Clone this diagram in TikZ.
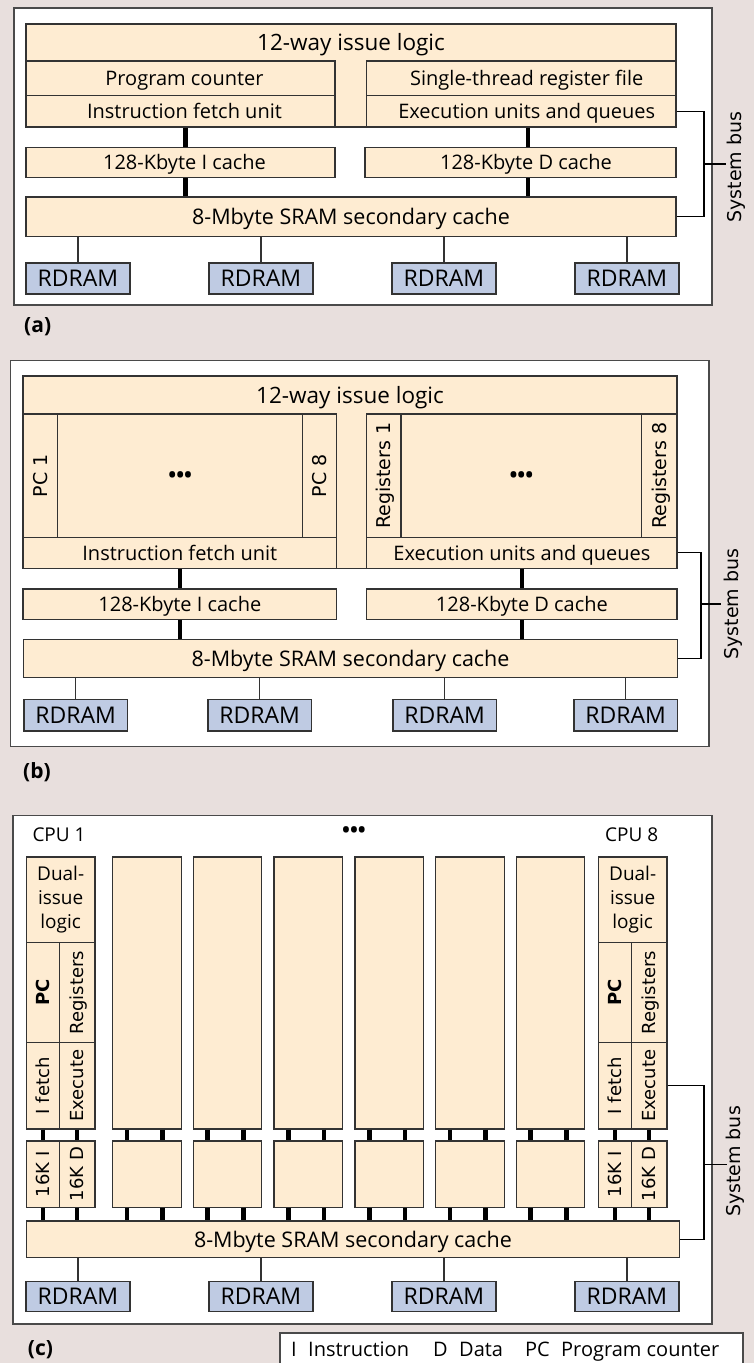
\documentclass[tikz,border=0pt]{standalone}
\usepackage{fontspec}
\setmainfont{Open Sans}
\newfontfamily\rotf{DejaVu Sans}
\usepackage{graphicx}
\definecolor{tanfill}{HTML}{FEECD2}
\definecolor{ramfill}{HTML}{BFCBE3}
\definecolor{edgec}{HTML}{333333}
\definecolor{bgc}{HTML}{E8DFDD}
\definecolor{framec}{HTML}{4A4A4A}
\newcommand\fs[1]{\fontsize{#1}{#1}\selectfont}
\tikzset{
  boxbase/.style={draw=edgec,fill=tanfill,line width=1.2pt,inner sep=0pt},
  ubox/.style={boxbase,font=\fs{20},text height=14.3pt,text depth=0pt},
  ttlbox/.style={font=\fs{22.5},text height=16pt,text depth=0pt,inner sep=0pt},
  l2box/.style={boxbase,font=\fs{21.5},text height=15.3pt,text depth=0pt},
  rbox/.style={boxbase,fill=ramfill,font=\fs{23},text height=16.4pt,text depth=0pt},
  dualbox/.style={boxbase,font=\fontsize{19}{24}\selectfont,align=center},
  vbx/.style={boxbase,rotate=90,font=\rotf\fs{19},text height=13.9pt,text depth=0pt},
  vbxs/.style={boxbase,rotate=90,font=\rotf\fs{18},text height=13.1pt,text depth=0pt},
  tshape/.style={draw=edgec,fill=tanfill,line width=1.2pt},
  panel/.style={draw=framec,fill=white,line width=1.3pt},
  wide/.style={line width=4.6pt,black},
  thinc/.style={line width=1.1pt,edgec},
  bus/.style={line width=1.1pt,black},
  sbus/.style={rotate=90,font=\rotf\fs{19},inner sep=0pt,anchor=north},
  plabel/.style={font=\bfseries\fs{21},inner sep=0pt,anchor=west},
  cpu/.style={font=\fs{19},inner sep=0pt,anchor=base west},
  dots/.style={font=\bfseries\fs{21},inner sep=0pt},
  legt/.style={font=\fs{20},inner sep=0pt,anchor=base west},
}
% horizontal box: [style]{name}{x1}{y1}{x2}{y2}{text}
\newcommand\hb[7][ubox]{\node[#1,minimum width={((#5)-(#3))*1pt},minimum height={((#6)-(#4))*1pt}] (#2) at ({((#3)+(#5))/2},{((#4)+(#6))/2}) {#7};}
% rotated box
\newcommand\vb[7][vbx]{\node[#1,minimum width={((#6)-(#4))*1pt},minimum height={((#5)-(#3))*1pt}] (#2) at ({((#3)+(#5))/2},{((#4)+(#6))/2}) {#7};}
\begin{document}
\begin{tikzpicture}[x=1pt,y=-1pt]
\useasboundingbox (0,0) rectangle (754,1363);
\fill[bgc] (0,0) rectangle (754,1363);

%================ (a) ================
\draw[panel] (14,8) rectangle (712,305);
\draw[tshape] (26,24) -- (676,24) -- (676,61) -- (366.5,61) -- (366.5,127) -- (335,127) -- (335,61) -- (26,61) -- cycle;
\node[ttlbox] (issA) at (351,42.5) {12-way issue logic};
\hb{pcA}{26}{61}{335}{95.7}{\hspace*{8pt}Program counter}
\hb{ifA}{26}{95.7}{335}{127}{\hspace*{8pt}Instruction fetch unit}
\hb{rfA}{366.5}{61}{676}{95.7}{\hspace*{11pt}Single-thread register file}
\hb{exA}{366.5}{95.7}{676}{127}{\hspace*{11pt}Execution units and queues}
\hb{icA}{26}{147.7}{335}{177.7}{\hspace*{8pt}128-Kbyte I cache}
\hb{dcA}{365}{147.7}{676}{177.7}{\hspace*{11pt}128-Kbyte D cache}
\hb[l2box]{l2A}{26}{197}{676}{236.7}{8-Mbyte SRAM secondary cache}
\hb[rbox]{r1A}{26}{263}{130}{294}{RDRAM}
\hb[rbox]{r2A}{209}{263}{313}{294}{RDRAM}
\hb[rbox]{r3A}{392}{263}{496}{294}{RDRAM}
\hb[rbox]{r4A}{575}{263}{679}{294}{RDRAM}
\coordinate (xa1) at (185.7,0);
\coordinate (xa2) at (528,0);
\draw[wide] (ifA.south -| xa1) -- (icA.north -| xa1);
\draw[wide] (icA.south -| xa1) -- (l2A.north -| xa1);
\draw[wide] (exA.south -| xa2) -- (dcA.north -| xa2);
\draw[wide] (dcA.south -| xa2) -- (l2A.north -| xa2);
\foreach \r in {r1A,r2A,r3A,r4A} \draw[thinc] (\r.north |- l2A.south) -- (\r.north);
\coordinate (busA) at (704,164);
\coordinate (tickA) at (725.7,164);
\draw[bus] (exA.east) -| (busA) |- (l2A.east);
\draw[bus] (busA) -- (tickA);
\node[sbus] (sbA) at (727.3,167) {System bus};
\node[plabel] (labA) at (24,327) {(a)};

%================ (b) ================
\draw[panel] (10.6,360.7) rectangle (709,746.7);
\draw[tshape] (23,376) -- (677,376) -- (677,414) -- (366.8,414) -- (366.8,568.3) -- (336.6,568.3) -- (336.6,414) -- (23,414) -- cycle;
\node[ttlbox] (issB) at (350,395) {12-way issue logic};
\vb{pc1B}{23}{414}{57.7}{537.5}{PC 1}
\hb[ubox,font=\bfseries\fs{21}]{pcmB}{57.7}{414}{302.7}{537.5}{•••}
\vb{pc8B}{302.7}{414}{336.6}{537.5}{PC 8}
\vb{rg1B}{366.8}{414}{401}{537.5}{Registers 1}
\hb[ubox,font=\bfseries\fs{21}]{rgmB}{401}{414}{641.8}{537.5}{•••}
\vb{rg8B}{641.8}{414}{677}{537.5}{Registers 8}
\hb{ifB}{23}{537.5}{336.6}{568.3}{Instruction fetch unit}
\hb{exB}{366.8}{537.5}{677}{568.3}{Execution units and queues}
\hb{icB}{23}{589}{336.6}{619.3}{128-Kbyte I cache}
\hb{dcB}{366.8}{589}{677}{619.3}{128-Kbyte D cache}
\hb[l2box]{l2B}{23.5}{639.3}{677.5}{677.7}{8-Mbyte SRAM secondary cache}
\hb[rbox]{r1B}{24}{699.3}{127.5}{731}{RDRAM}
\hb[rbox]{r2B}{208}{699.3}{311.5}{731}{RDRAM}
\hb[rbox]{r3B}{393}{699.3}{496.5}{731}{RDRAM}
\hb[rbox]{r4B}{574}{699.3}{677.5}{731}{RDRAM}
\draw[wide] (ifB.south) -- (icB.north);
\draw[wide] (icB.south) -- (l2B.north -| icB.south);
\draw[wide] (exB.south) -- (dcB.north);
\draw[wide] (dcB.south) -- (l2B.north -| dcB.south);
\foreach \r in {r1B,r2B,r3B,r4B} \draw[thinc] (\r.north |- l2B.south) -- (\r.north);
\coordinate (busB) at (701,604);
\coordinate (tickB) at (721,604);
\draw[bus] (exB.east) -| (busB) |- (l2B.east);
\draw[bus] (busB) -- (tickB);
\node[sbus] (sbB) at (723.6,604) {System bus};
\node[plabel] (labB) at (23,771.7) {(b)};

%================ (c) ================
\draw[panel] (13,815.7) rectangle (712,1324);
\node[cpu] (cpu1) at (32.3,841) {CPU 1};
\node[cpu] (cpu8) at (605,841) {CPU 8};
\node[dots] (dotsC) at (354,832) {•••};
\hb[l2box]{l2C}{26.4}{1221}{679.5}{1257.7}{8-Mbyte SRAM secondary cache}
\foreach \L/\n in {26.4/1,598.4/8} {
  \hb[dualbox]{du\n C}{\L}{857}{\L+68.5}{942.7}{Dual-\\issue\\logic}
  \vb[vbxs]{pc\n C}{\L}{942.7}{\L+33}{1042.5}{\bfseries PC}
  \vb[vbxs]{rg\n C}{\L+33}{942.7}{\L+68.5}{1042.5}{Registers}
  \vb[vbxs]{if\n C}{\L}{1042.5}{\L+33}{1129}{I fetch}
  \vb[vbxs]{ex\n C}{\L+33}{1042.5}{\L+68.5}{1129}{Execute}
  \vb[vbxs]{ci\n C}{\L}{1141}{\L+33}{1207.3}{16K I}
  \vb[vbxs]{cd\n C}{\L+33}{1141}{\L+68.5}{1207.3}{16K D}
  \draw[wide] (if\n C.west) -- (ci\n C.east);
  \draw[wide] (ex\n C.west) -- (cd\n C.east);
  \draw[wide] (ci\n C.west) -- (ci\n C.west |- l2C.north);
  \draw[wide] (cd\n C.west) -- (cd\n C.west |- l2C.north);
}
\foreach \L/\n in {112.7/2,193.3/3,274/4,355/5,435.6/6,516.3/7} {
  \hb{up\n C}{\L}{857}{\L+68.5}{1129}{}
  \hb{lo\n C}{\L}{1141}{\L+68.5}{1207.3}{}
  \foreach \dx in {15,50.5} {
    \path ([xshift=\dx pt]up\n C.south west) coordinate (ta);
    \draw[wide] (ta) -- (ta |- lo\n C.north);
    \path ([xshift=\dx pt]lo\n C.south west) coordinate (tb);
    \draw[wide] (tb) -- (tb |- l2C.north);
  }
}
\hb[rbox]{r1C}{26}{1281.7}{130}{1311.7}{RDRAM}
\hb[rbox]{r2C}{209}{1281.7}{313}{1311.7}{RDRAM}
\hb[rbox]{r3C}{392}{1281.7}{496}{1311.7}{RDRAM}
\hb[rbox]{r4C}{575}{1281.7}{679}{1311.7}{RDRAM}
\foreach \r in {r1C,r2C,r3C,r4C} \draw[thinc] (\r.north |- l2C.south) -- (\r.north);
\coordinate (busC) at (704,1164.3);
\coordinate (tickC) at (726.7,1164.3);
\draw[bus] (ex8C.south) -| (busC) |- (l2C.east);
\draw[bus] (busC) -- (tickC);
\node[sbus] (sbC) at (726,1161.5) {System bus};
\node[plabel] (labC) at (27.7,1350) {(c)};

% legend
\draw[panel] (280,1333) rectangle (743,1368);
\node[legt] (lgI) at (291,1356) {I};
\node[legt] (lgIt) at (308,1356) {Instruction};
\node[legt] (lgD) at (433,1356) {D};
\node[legt] (lgDt) at (459,1356) {Data};
\node[legt] (lgP) at (525,1356) {PC};
\node[legt] (lgPt) at (561,1356) {Program counter};
\end{tikzpicture}
\end{document}
